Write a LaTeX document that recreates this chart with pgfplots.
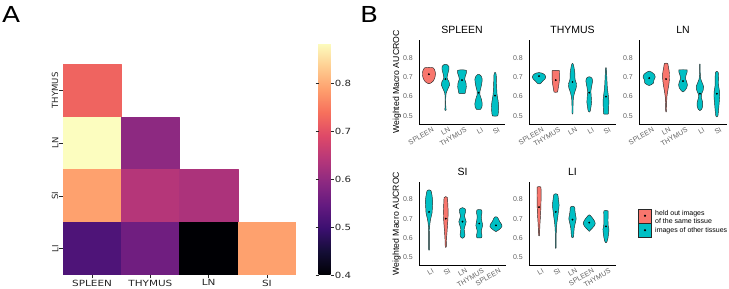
\documentclass[border=0pt]{standalone}
\usepackage{pgfplots}
\pgfplotsset{compat=1.18}
\usepackage{pgfplotstable}
\usepgfplotslibrary{fillbetween}
\usepackage{fontspec}
\setmainfont{Liberation Sans}
\newfontfamily\djv{DejaVu Sans}
\newfontfamily\arial{Liberation Sans}
\definecolor{cred}{RGB}{248,118,109}
\definecolor{ccyan}{RGB}{0,191,196}
\definecolor{vedge}{RGB}{40,40,40}

% ---- SPLEEN panel
\pgfplotstableread{
y w
0.666 0
0.670 0.12
0.680 0.26
0.695 0.35
0.712 0.39
0.728 0.38
0.740 0.33
0.748 0.26
0.750 0
}\spA
\pgfplotstableread{
y w
0.528 0
0.532 0.04
0.540 0.03
0.560 0.015
0.600 0.02
0.620 0.05
0.640 0.15
0.660 0.25
0.675 0.22
0.690 0.12
0.700 0.10
0.720 0.15
0.740 0.21
0.755 0.20
0.763 0.12
0.766 0
}\spB
\pgfplotstableread{
y w
0.615 0
0.616 0.18
0.630 0.22
0.650 0.26
0.670 0.24
0.690 0.16
0.705 0.20
0.720 0.26
0.735 0.26
0.738 0
}\spC
\pgfplotstableread{
y w
0.533 0
0.534 0.12
0.545 0.20
0.565 0.22
0.590 0.16
0.610 0.08
0.625 0.08
0.645 0.14
0.670 0.20
0.690 0.22
0.705 0.16
0.713 0.06
0.715 0
}\spD
\pgfplotstableread{
y w
0.500 0
0.501 0.16
0.520 0.20
0.550 0.22
0.580 0.18
0.610 0.12
0.640 0.10
0.680 0.08
0.710 0.07
0.722 0.04
0.724 0
}\spE
% ---- THYMUS panel
\pgfplotstableread{
y w
0.665 0
0.668 0.10
0.680 0.22
0.690 0.35
0.700 0.40
0.710 0.36
0.718 0.25
0.722 0.12
0.723 0
}\thA
\pgfplotstableread{
y w
0.622 0
0.623 0.10
0.640 0.14
0.660 0.18
0.680 0.21
0.700 0.22
0.720 0.22
0.734 0.21
0.735 0
}\thB
\pgfplotstableread{
y w
0.510 0
0.515 0.03
0.550 0.03
0.590 0.05
0.620 0.12
0.645 0.22
0.665 0.24
0.685 0.16
0.700 0.14
0.720 0.14
0.745 0.10
0.765 0.05
0.772 0
}\thC
\pgfplotstableread{
y w
0.520 0
0.525 0.06
0.545 0.10
0.570 0.14
0.600 0.12
0.630 0.10
0.660 0.16
0.680 0.20
0.695 0.16
0.700 0.08
0.702 0
}\thD
\pgfplotstableread{
y w
0.510 0
0.511 0.14
0.540 0.16
0.580 0.17
0.620 0.12
0.650 0.08
0.700 0.05
0.740 0.03
0.750 0
}\thE
% ---- LN panel
\pgfplotstableread{
y w
0.657 0
0.660 0.10
0.670 0.26
0.685 0.28
0.700 0.36
0.715 0.30
0.725 0.16
0.731 0
}\lnA
\pgfplotstableread{
y w
0.520 0
0.525 0.02
0.560 0.03
0.600 0.05
0.630 0.10
0.660 0.16
0.690 0.20
0.720 0.20
0.750 0.14
0.770 0.10
0.772 0
}\lnB
\pgfplotstableread{
y w
0.624 0
0.630 0.10
0.645 0.22
0.660 0.26
0.675 0.22
0.695 0.14
0.710 0.18
0.725 0.24
0.737 0.24
0.738 0
}\lnC
\pgfplotstableread{
y w
0.528 0
0.535 0.10
0.550 0.16
0.570 0.16
0.590 0.10
0.610 0.08
0.630 0.18
0.650 0.22
0.670 0.14
0.690 0.05
0.720 0.02
0.765 0.015
0.768 0
}\lnD
\pgfplotstableread{
y w
0.495 0
0.500 0.06
0.530 0.10
0.560 0.13
0.600 0.17
0.625 0.16
0.660 0.10
0.700 0.10
0.725 0.08
0.730 0
}\lnE
% ---- SI panel
\pgfplotstableread{
y w
0.535 0
0.540 0.02
0.600 0.02
0.650 0.03
0.680 0.06
0.700 0.10
0.730 0.18
0.760 0.20
0.790 0.22
0.820 0.18
0.845 0.12
0.850 0
}\siA
\pgfplotstableread{
y w
0.550 0
0.555 0.03
0.600 0.05
0.650 0.09
0.700 0.13
0.740 0.14
0.780 0.12
0.810 0.10
0.815 0
}\siB
\pgfplotstableread{
y w
0.598 0
0.605 0.12
0.620 0.14
0.645 0.10
0.665 0.16
0.685 0.22
0.700 0.16
0.715 0.12
0.735 0.18
0.750 0.17
0.758 0
}\siC
\pgfplotstableread{
y w
0.600 0
0.601 0.14
0.615 0.16
0.635 0.12
0.665 0.20
0.685 0.16
0.710 0.12
0.730 0.16
0.745 0.14
0.748 0
}\siD
\pgfplotstableread{
y w
0.633 0
0.640 0.14
0.650 0.28
0.660 0.36
0.670 0.34
0.685 0.22
0.700 0.14
0.708 0.08
0.710 0
}\siE
% ---- LI panel
\pgfplotstableread{
y w
0.610 0
0.615 0.03
0.640 0.04
0.680 0.06
0.720 0.09
0.760 0.11
0.800 0.12
0.840 0.12
0.865 0.11
0.867 0
}\liA
\pgfplotstableread{
y w
0.545 0
0.550 0.02
0.600 0.02
0.650 0.04
0.680 0.07
0.710 0.12
0.740 0.16
0.770 0.20
0.800 0.16
0.825 0.12
0.830 0
}\liB
\pgfplotstableread{
y w
0.600 0
0.605 0.06
0.625 0.08
0.650 0.10
0.675 0.16
0.700 0.22
0.720 0.18
0.745 0.14
0.760 0.13
0.765 0
}\liC
\pgfplotstableread{
y w
0.634 0
0.645 0.12
0.660 0.28
0.675 0.36
0.690 0.30
0.705 0.18
0.717 0.06
0.720 0
}\liD
\pgfplotstableread{
y w
0.575 0
0.580 0.06
0.600 0.12
0.625 0.16
0.645 0.18
0.660 0.14
0.690 0.12
0.720 0.13
0.740 0.13
0.743 0
}\liE

\pgfplotsset{
  vout/.style={draw=vedge, line width=0.45pt, smooth, tension=0.35, forget plot},
  vax/.style={
    scale only axis, height=84pt, set layers, clip=false,
    xmin=0.4, xmax=5.6, ymin=0.459, ymax=0.891,
    axis x line*=bottom, axis y line*=left,
    axis line style={draw=black, line width=0.6pt, -},
    xtick={1,2,3,4,5}, ytick={0.5,0.6,0.7,0.8},
    yticklabels={0.5,0.6,0.7,0.8},
    major tick length=0pt,
    tick label style={font=\arial\fontsize{7}{8}\selectfont, text=black!62},
    yticklabel style={anchor=east, inner sep=0pt, xshift=-6pt},
    xticklabel style={rotate=30, anchor=north east, inner sep=0pt, yshift=-4pt, xshift=1pt},
    title style={font=\arial\fontsize{10.5}{12}\selectfont, at={(0.5,1)}, anchor=base, yshift=0pt},
    ylabel style={font=\arial\fontsize{8.7}{10}\selectfont, at={(axis description cs:-0.256,0.5)}, anchor=center},
  },
}
\newcommand{\vio}[4]{%
  \addplot[vout, name path=L#4] table[x expr=#1-\thisrow{w}, y=y]{#2};
  \addplot[vout, name path=R#4] table[x expr=#1+\thisrow{w}, y=y]{#2};
  \addplot[fill=#3, draw=none, forget plot] fill between[of=L#4 and R#4];
}

\begin{document}
\begin{tikzpicture}
\node[anchor=base west, inner sep=0pt, font=\djv\fontsize{22}{22}\selectfont, xscale=1.2] at (2pt,266pt) {A};
\node[anchor=base west, inner sep=0pt, font=\djv\fontsize{22}{22}\selectfont, xscale=1.2] at (360pt,266pt) {B};

% ---------------- Panel A heatmap
\begin{axis}[
  at={(63pt,14pt)}, anchor=south west,
  scale only axis, width=233pt, height=211pt,
  xmin=0, xmax=4, ymin=0, ymax=4,
  axis x line*=bottom, axis y line*=left,
  axis line style={draw=none},
  xtick={0.5,1.5,2.5,3.5}, xticklabels={SPLEEN,THYMUS,LN,SI},
  ytick={0.5,1.5,2.5,3.5}, yticklabels={LI,SI,LN,THYMUS},
  tick align=outside, major tick length=3.5pt,
  tick style={black!85, line width=0.5pt},
  xticklabel style={font=\djv\fontsize{8.5}{10}\selectfont, text=black!85, xscale=1.23, anchor=north, inner sep=1pt},
  yticklabel style={font=\djv\fontsize{8.5}{10}\selectfont, text=black!85, rotate=90, anchor=south, inner sep=1pt},
  colormap={magma}{rgb255=(0,0,4) rgb255=(20,14,54) rgb255=(59,15,112) rgb255=(100,26,128) rgb255=(140,41,129) rgb255=(183,55,121) rgb255=(222,73,104) rgb255=(247,112,92) rgb255=(254,159,109) rgb255=(254,207,146) rgb255=(252,253,191)},
  point meta min=0.4, point meta max=0.885,
  colorbar,
  colorbar style={
    at={(parent axis.south east)}, anchor=south west, xshift=14pt,
    scale only axis, width=12pt, height=232pt,
    ytick={0.4,0.5,0.6,0.7,0.8}, yticklabels={0.4,0.5,0.6,0.7,0.8},
    axis line style={draw=none},
    tick align=outside, major tick length=3pt,
    tick style={black!85, line width=0.5pt},
    yticklabel style={font=\djv\fontsize{8.5}{10}\selectfont, text=black!85, xscale=1.2, anchor=west, inner sep=1pt},
  },
]
\addplot[patch, patch type=rectangle, shader=flat corner, point meta=explicit, draw=none] coordinates {
(0,3) [0.725] (1,3) [0.725] (1,4) [0.725] (0,4) [0.725]
(0,2) [0.885] (1,2) [0.885] (1,3) [0.885] (0,3) [0.885]
(1,2) [0.595] (2,2) [0.595] (2,3) [0.595] (1,3) [0.595]
(0,1) [0.79] (1,1) [0.79] (1,2) [0.79] (0,2) [0.79]
(1,1) [0.64] (2,1) [0.64] (2,2) [0.64] (1,2) [0.64]
(2,1) [0.63] (3,1) [0.63] (3,2) [0.63] (2,2) [0.63]
(0,0) [0.52] (1,0) [0.52] (1,1) [0.52] (0,1) [0.52]
(1,0) [0.56] (2,0) [0.56] (2,1) [0.56] (1,1) [0.56]
(2,0) [0.40] (3,0) [0.40] (3,1) [0.40] (2,1) [0.40]
(3,0) [0.79] (4,0) [0.79] (4,1) [0.79] (3,1) [0.79]
};
\end{axis}

% ---------------- Panel B: SPLEEN
\begin{axis}[vax, at={(419pt,165pt)}, anchor=south west, width=86pt,
  title={SPLEEN}, ylabel={Weighted Macro AUCROC},
  xticklabels={SPLEEN,LN,THYMUS,LI,SI}]
\vio{1}{\spA}{cred}{spA}
\vio{2}{\spB}{ccyan}{spB}
\vio{3}{\spC}{ccyan}{spC}
\vio{4}{\spD}{ccyan}{spD}
\vio{5}{\spE}{ccyan}{spE}
\addplot[only marks, mark=*, mark size=0.7pt, black] coordinates {(1,0.715) (2,0.69) (3,0.685) (4,0.62) (5,0.605)};
\end{axis}

% THYMUS
\begin{axis}[vax, at={(529pt,165pt)}, anchor=south west, width=87pt,
  title={THYMUS},
  xticklabels={SPLEEN,THYMUS,LN,LI,SI}]
\vio{1}{\thA}{ccyan}{thA}
\vio{2}{\thB}{cred}{thB}
\vio{3}{\thC}{ccyan}{thC}
\vio{4}{\thD}{ccyan}{thD}
\vio{5}{\thE}{ccyan}{thE}
\addplot[only marks, mark=*, mark size=0.7pt, black] coordinates {(1,0.705) (2,0.685) (3,0.675) (4,0.62) (5,0.60)};
\end{axis}

% LN
\begin{axis}[vax, at={(639pt,165pt)}, anchor=south west, width=88pt,
  title={LN},
  xticklabels={SPLEEN,LN,THYMUS,LI,SI}]
\vio{1}{\lnA}{ccyan}{lnA}
\vio{2}{\lnB}{cred}{lnB}
\vio{3}{\lnC}{ccyan}{lnC}
\vio{4}{\lnD}{ccyan}{lnD}
\vio{5}{\lnE}{ccyan}{lnE}
\addplot[only marks, mark=*, mark size=0.7pt, black] coordinates {(1,0.695) (2,0.69) (3,0.68) (4,0.615) (5,0.615)};
\end{axis}

% SI
\begin{axis}[vax, at={(419pt,24pt)}, anchor=south west, width=87pt, height=83pt,
  title={SI}, ylabel={Weighted Macro AUCROC},
  xticklabels={LI,SI,LN,THYMUS,SPLEEN}]
\vio{1}{\siA}{ccyan}{siA}
\vio{2}{\siB}{cred}{siB}
\vio{3}{\siC}{ccyan}{siC}
\vio{4}{\siD}{ccyan}{siD}
\vio{5}{\siE}{ccyan}{siE}
\addplot[only marks, mark=*, mark size=0.7pt, black] coordinates {(1,0.735) (2,0.70) (3,0.685) (4,0.675) (5,0.665)};
\end{axis}

% LI
\begin{axis}[vax, at={(529pt,24pt)}, anchor=south west, width=87pt, height=83pt,
  title={LI},
  xticklabels={LI,SI,LN,SPLEEN,THYMUS},
  legend style={at={(axis description cs:1.253,0.506)}, anchor=west, draw=none, fill=none,
    inner sep=0pt, row sep=0pt, font=\arial\fontsize{7}{7.5}\selectfont,
    nodes={inner sep=0.5pt}, /tikz/every odd column/.append style={column sep=3pt}},
  legend cell align=left]
\addlegendimage{legend image code/.code={\draw[fill=cred, draw=vedge, line width=0.5pt] (0pt,-7pt) rectangle (13pt,7pt); \fill[black] (6.5pt,0pt) circle (0.8pt);}}
\addlegendentry{\begin{tabular}{@{}l@{}}held out images\\of the same tissue\end{tabular}}
\addlegendimage{legend image code/.code={\draw[fill=ccyan, draw=vedge, line width=0.5pt] (0pt,-7pt) rectangle (13pt,7pt); \fill[black] (6.5pt,0pt) circle (0.8pt);}}
\addlegendentry{images of other tissues}
\vio{1}{\liA}{cred}{liA}
\vio{2}{\liB}{ccyan}{liB}
\vio{3}{\liC}{ccyan}{liC}
\vio{4}{\liD}{ccyan}{liD}
\vio{5}{\liE}{ccyan}{liE}
\addplot[only marks, mark=*, mark size=0.7pt, black, forget plot] coordinates {(1,0.76) (2,0.735) (3,0.695) (4,0.68) (5,0.66)};
\end{axis}
\pgfresetboundingbox
\useasboundingbox (0,0) rectangle (729pt,289pt);
\end{tikzpicture}
\end{document}
